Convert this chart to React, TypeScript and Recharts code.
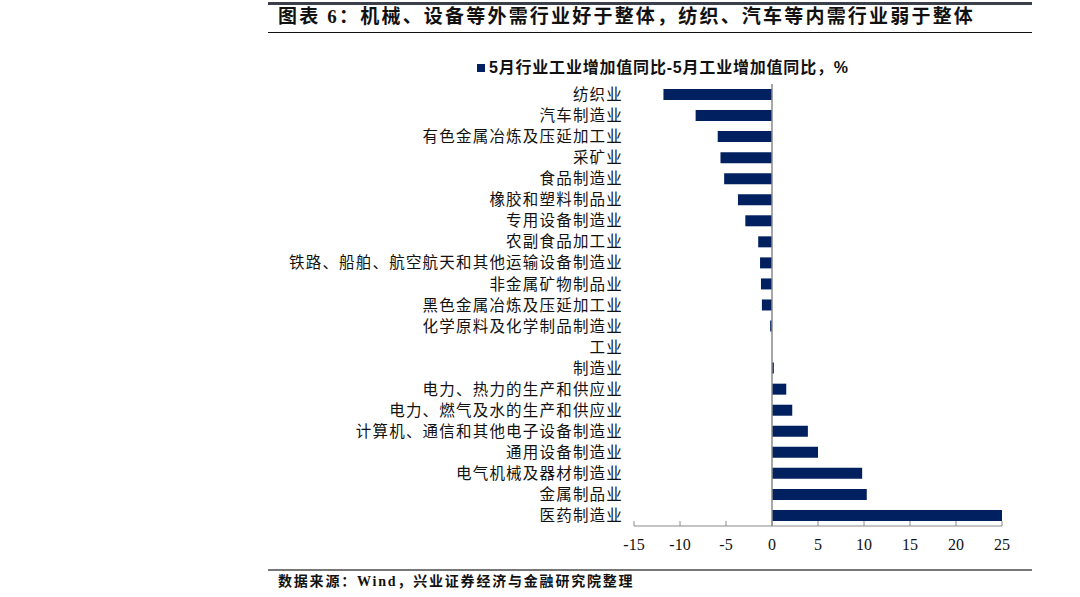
import React from 'react';
import { BarChart, Bar, XAxis, YAxis, ReferenceLine } from 'recharts';

// 行业名称（自上而下）
const industries = [
  '纺织业',
  '汽车制造业',
  '有色金属冶炼及压延加工业',
  '采矿业',
  '食品制造业',
  '橡胶和塑料制品业',
  '专用设备制造业',
  '农副食品加工业',
  '铁路、船舶、航空航天和其他运输设备制造业',
  '非金属矿物制品业',
  '黑色金属冶炼及压延加工业',
  '化学原料及化学制品制造业',
  '工业',
  '制造业',
  '电力、热力的生产和供应业',
  '电力、燃气及水的生产和供应业',
  '计算机、通信和其他电子设备制造业',
  '通用设备制造业',
  '电气机械及器材制造业',
  '金属制品业',
  '医药制造业',
];

// 5月行业工业增加值同比 - 5月工业增加值同比，%
const gapValues = [
  -11.8, -8.3, -5.9, -5.6, -5.2, -3.7, -2.9, -1.5, -1.3, -1.2, -1.1, -0.2, 0, 0.2, 1.55, 2.2, 3.9,
  5.0, 9.8, 10.3, 25.0,
];

const xTicks = [-15, -10, -5, 0, 5, 10, 15, 20, 25];

const chartData = industries.map((name, i) => ({ name, value: gapValues[i] }));

const NAVY = '#002060';
const serif = "'Liberation Serif', 'Noto Sans CJK SC', serif";

const CategoryTick = (props: any) => {
  const { x, y, payload } = props;
  return (
    <text
      x={x}
      y={y}
      dy="0.36em"
      textAnchor="end"
      fontFamily={serif}
      fontSize={15.5}
      letterSpacing={1.2}
      fill="#111"
    >
      {payload.value}
    </text>
  );
};

const App: React.FC = () => {
  return (
    <div style={{ position: 'absolute', left: 0, top: 0, width: 1080, height: 597, background: '#fff', fontFamily: serif }}>
      {/* title block */}
      <div style={{ position: 'absolute', left: 268, top: 2, width: 764, height: 3, background: '#3a3f4a' }} />
      <div
        style={{
          position: 'absolute',
          left: 278,
          top: 6,
          fontSize: 19,
          lineHeight: '22px',
          fontWeight: 'bold',
          letterSpacing: 2.2,
          color: '#111',
          whiteSpace: 'nowrap',
        }}
      >
        图表 6：机械、设备等外需行业好于整体，纺织、汽车等内需行业弱于整体
      </div>
      <div style={{ position: 'absolute', left: 268, top: 32, width: 764, height: 1, background: '#111' }} />

      {/* legend */}
      <div
        style={{
          position: 'absolute',
          left: 477,
          top: 58,
          display: 'flex',
          alignItems: 'center',
          whiteSpace: 'nowrap',
          fontFamily: "'Liberation Sans', 'Noto Sans CJK SC', sans-serif",
          fontWeight: 'bold',
          fontSize: 16,
          lineHeight: '20px',
          letterSpacing: 0.8,
          color: '#111',
        }}
      >
        <span style={{ display: 'inline-block', width: 8, height: 8, background: NAVY, marginRight: 4 }} />
        <span>5月行业工业增加值同比-5月工业增加值同比，%</span>
      </div>

      <div style={{ position: 'absolute', left: 0, top: 0 }}>
        <BarChart
          width={1080}
          height={597}
          data={chartData}
          layout="vertical"
          margin={{ top: 84, right: 78, bottom: 31, left: 274 }}
        >
          <XAxis
            type="number"
            domain={[-15, 25]}
            ticks={xTicks}
            interval={0}
            stroke="#8a8a8a"
            tickSize={-5}
            tickMargin={18}
            tick={{ fontFamily: serif, fontSize: 16, fill: '#111' }}
            height={40}
          />
          <YAxis
            type="category"
            dataKey="name"
            width={360}
            axisLine={false}
            tickLine={false}
            tickMargin={5}
            interval={0}
            tick={<CategoryTick />}
          />
          <ReferenceLine x={0} stroke="#8a8a8a" strokeWidth={1.5} />
          <Bar dataKey="value" fill={NAVY} barSize={11} isAnimationActive={false} />
        </BarChart>
      </div>

      {/* source */}
      <div style={{ position: 'absolute', left: 268, top: 569, width: 764, height: 2, background: '#777' }} />
      <div
        style={{
          position: 'absolute',
          left: 278,
          top: 573,
          fontSize: 14,
          lineHeight: '18px',
          fontWeight: 'bold',
          letterSpacing: 1.8,
          color: '#111',
          whiteSpace: 'nowrap',
        }}
      >
        数据来源：Wind，兴业证券经济与金融研究院整理
      </div>
    </div>
  );
};

export default App;
